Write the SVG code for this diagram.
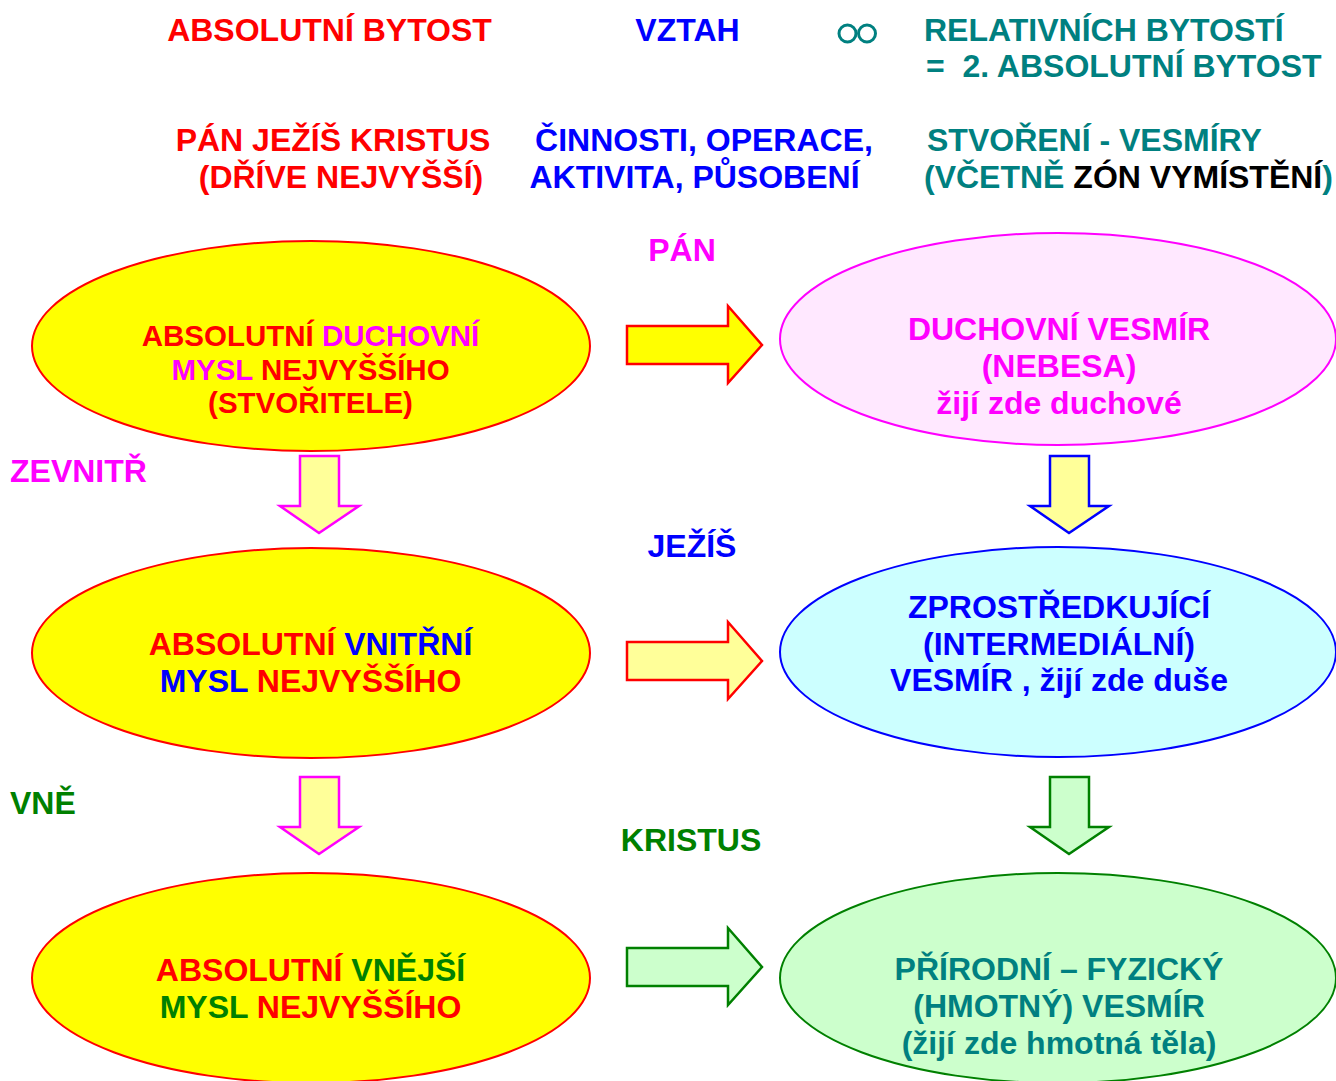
<svg xmlns="http://www.w3.org/2000/svg" width="1336" height="1081" viewBox="0 0 1336 1081">
<style>
text{font-family:"Liberation Sans",Arial,sans-serif;font-weight:bold}
.h{font-size:32px}
.e{font-size:32px;text-anchor:middle}
.e1{font-size:29.5px}
.r{fill:#FF0000}.b{fill:#0000FF}.m{fill:#FF00FF}.g{fill:#008000}.t{fill:#008080}.k{fill:#000000}
.ell{stroke-width:2}
.arr{stroke-width:2.5;stroke-linejoin:miter}
</style>
<defs>
<path id="rightArrow" d="M0,0 H101 V-20 L135,19 L101,57 V38 H0 Z"/>
<path id="downArrow" d="M0,0 H39 V50 H59 L19,77 L-20,50 H0 Z"/>
</defs>
<rect width="1336" height="1081" fill="#FFFFFF"/>
<g id="header">
<text class="h r" x="329.5" y="41" text-anchor="middle">ABSOLUTNÍ BYTOST</text>
<text class="h b" x="687.5" y="41" text-anchor="middle">VZTAH</text>
<g id="infinity" fill="none" stroke="#008080" stroke-width="3"><circle cx="847.5" cy="33.5" r="8.5"/><circle cx="867" cy="33.5" r="8.5"/></g>
<text class="h t" x="924" y="41">RELATIVNÍCH BYTOSTÍ</text>
<text class="h t" x="926" y="77" xml:space="preserve">=  2. ABSOLUTNÍ BYTOST</text>
<text class="h r" x="333" y="151" text-anchor="middle">PÁN JEŽÍŠ KRISTUS</text>
<text class="h r" x="341" y="188" text-anchor="middle">(DŘÍVE NEJVYŠŠÍ)</text>
<text class="h b" x="704" y="151" text-anchor="middle">ČINNOSTI, OPERACE,</text>
<text class="h b" x="694.5" y="188" text-anchor="middle">AKTIVITA, PŮSOBENÍ</text>
<text class="h t" x="927" y="151">STVOŘENÍ - VESMÍRY</text>
<text class="h t" x="924" y="188">(VČETNĚ <tspan class="k">ZÓN VYMÍSTĚNÍ</tspan>)</text>
</g>
<g id="labels">
<text class="h m" x="682" y="261" text-anchor="middle">PÁN</text>
<text class="h m" x="10" y="482">ZEVNITŘ</text>
<text class="h b" x="692" y="557" text-anchor="middle">JEŽÍŠ</text>
<text class="h g" x="10" y="814">VNĚ</text>
<text class="h g" x="691" y="851" text-anchor="middle">KRISTUS</text>
</g>
<g id="connectors">
<use href="#rightArrow" x="627" y="326" fill="#FFFF00" stroke="#FF0000" class="arr"/>
<use href="#rightArrow" x="627" y="642" fill="#FFFF99" stroke="#FF0000" class="arr"/>
<use href="#rightArrow" x="627" y="948" fill="#CCFFCC" stroke="#008000" class="arr"/>
<use href="#downArrow" x="300" y="456" fill="#FFFF99" stroke="#FF00FF" class="arr"/>
<use href="#downArrow" x="300" y="777" fill="#FFFF99" stroke="#FF00FF" class="arr"/>
<use href="#downArrow" x="1050" y="456" fill="#FFFF99" stroke="#0000FF" class="arr"/>
<use href="#downArrow" x="1050" y="777" fill="#CCFFCC" stroke="#008000" class="arr"/>
</g>
<g id="node-absolute-spiritual">
<ellipse class="ell" cx="311" cy="346" rx="279" ry="105" fill="#FFFF00" stroke="#FF0000"/>
<text class="e e1 r" x="310.5" y="346">ABSOLUTNÍ <tspan class="m">DUCHOVNÍ</tspan></text>
<text class="e e1 r" x="310.5" y="380"><tspan class="m">MYSL</tspan> NEJVYŠŠÍHO</text>
<text class="e e1 r" x="310.5" y="413">(STVOŘITELE)</text>
</g>
<g id="node-spiritual-universe">
<ellipse class="ell" cx="1058" cy="339" rx="278" ry="106" fill="#FFE8FF" stroke="#FF00FF"/>
<text class="e m" x="1059" y="340">DUCHOVNÍ VESMÍR</text>
<text class="e m" x="1059" y="377">(NEBESA)</text>
<text class="e m" x="1059" y="414">žijí zde duchové</text>
</g>
<g id="node-absolute-inner">
<ellipse class="ell" cx="311" cy="653" rx="279" ry="105" fill="#FFFF00" stroke="#FF0000"/>
<text class="e r" x="310.5" y="655">ABSOLUTNÍ <tspan class="b">VNITŘNÍ</tspan></text>
<text class="e r" x="310.5" y="692"><tspan class="b">MYSL</tspan> NEJVYŠŠÍHO</text>
</g>
<g id="node-intermediate-universe">
<ellipse class="ell" cx="1058" cy="652" rx="278" ry="105" fill="#CCFFFF" stroke="#0000FF"/>
<text class="e b" x="1059" y="618">ZPROSTŘEDKUJÍCÍ</text>
<text class="e b" x="1059" y="655">(INTERMEDIÁLNÍ)</text>
<text class="e b" x="1059" y="691">VESMÍR , žijí zde duše</text>
</g>
<g id="node-absolute-outer">
<ellipse class="ell" cx="311" cy="978" rx="279" ry="105" fill="#FFFF00" stroke="#FF0000"/>
<text class="e r" x="310.5" y="981">ABSOLUTNÍ <tspan class="g">VNĚJŠÍ</tspan></text>
<text class="e r" x="310.5" y="1018"><tspan class="g">MYSL</tspan> NEJVYŠŠÍHO</text>
</g>
<g id="node-physical-universe">
<ellipse class="ell" cx="1058" cy="978" rx="278" ry="105" fill="#CCFFCC" stroke="#008000"/>
<text class="e t" x="1059" y="980">PŘÍRODNÍ – FYZICKÝ</text>
<text class="e t" x="1059" y="1017">(HMOTNÝ) VESMÍR</text>
<text class="e t" x="1059" y="1054">(žijí zde hmotná těla)</text>
</g>
</svg>
